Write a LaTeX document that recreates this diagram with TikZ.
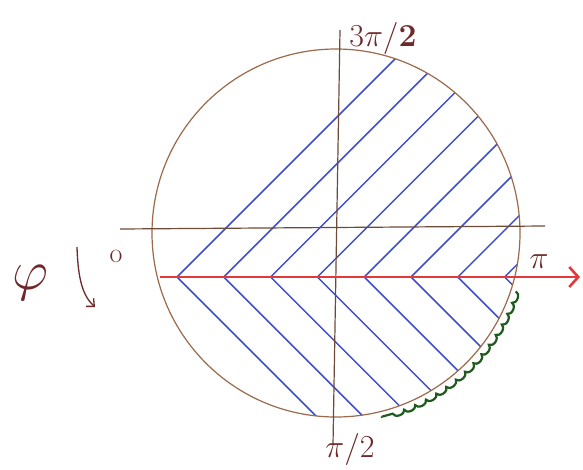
\RequirePackage{fix-cm}
\documentclass[tikz,border=0pt]{standalone}
\usetikzlibrary{arrows.meta,decorations.pathmorphing,calc}
\definecolor{circbrown}{HTML}{9A6A4A}
\definecolor{axisbrown}{HTML}{6E4A38}
\definecolor{hatchblue}{HTML}{3F4FCB}
\definecolor{arrowred}{HTML}{E23A3A}
\definecolor{scallop}{HTML}{1F5A1F}
\definecolor{inkred}{HTML}{6E2A2A}
\tikzset{
  circline/.style={draw=circbrown,line width=1.2pt},
  axisline/.style={draw=axisbrown,line width=1.2pt},
  hatchline/.style={draw=hatchblue,line width=1.5pt},
  redarrow/.style={draw=arrowred,line width=2.6pt,-{Straight Barb[length=9pt,width=20pt,line width=2.6pt]}},
  inklabel/.style={text=inkred,font=\fontsize{32}{34}\selectfont,inner sep=0pt},
  phiarrow/.style={draw=inkred,line width=1.3pt,-{Straight Barb[length=6pt,width=11pt,line width=1.3pt]}},
  scallopline/.style={draw=scallop,line width=2.2pt,decorate,decoration={bumps,segment length=24pt,amplitude=4pt}}
}
\begin{document}
\begin{tikzpicture}[x=1pt,y=-1pt]
\useasboundingbox (0,0) rectangle (583,469);
\fill[white] (0,0) rectangle (583,469);
\coordinate (O) at (336,233);
% hatching
\begin{scope}
  \clip (O) circle[radius=184];
  \foreach \i in {0,...,7}{
    \coordinate (v\i) at ({177+46.8*\i},277);
    \draw[hatchline] (v\i) -- ++(320,-320);
    \draw[hatchline] (v\i) -- ++(320,320);
  }
\end{scope}
% circle
\draw[circline] (O) circle[radius=184];
% axes
\coordinate (hl) at (120,229);
\coordinate (hr) at (545,226);
\coordinate (vt) at (340,30);
\coordinate (vb) at (333,445);
\draw[axisline] (hl) -- (hr);
\draw[axisline] (vt) -- (vb);
% red arrow
\coordinate (rl) at (160,277);
\coordinate (rr) at (580,277);
\draw[redarrow] (rl) -- (rr);
% green scallop
\coordinate (gs) at ($(O)+(18:189)$);
\draw[scallopline] (gs) arc[start angle=18,end angle=76,radius=189];
% labels
\node[inklabel] (top) at (383,38) {$3\pi/\mathbf{2}$};
\node[inklabel] (right) at (539,262) {$\pi$};
\node[inklabel] (bottom) at (350,449) {$\pi/2$};
\node[inklabel,font=\fontsize{56}{58}\selectfont] (phi) at (30,283) {$\varphi$};
\node[inklabel,font=\fontsize{28}{30}\selectfont] (zero) at (116,256) {o};
\coordinate (pa) at (77,247);
\coordinate (pb) at (95,307);
\draw[phiarrow] (pa) .. controls (78,280) and (83,296) .. (pb);
\end{tikzpicture}
\end{document}
